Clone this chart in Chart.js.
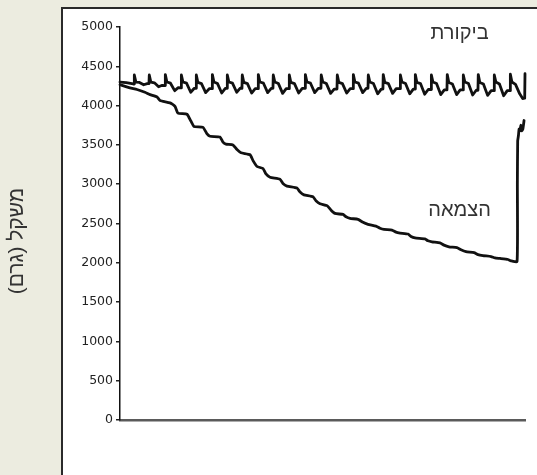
<!DOCTYPE html>
<html>
<head>
<meta charset="utf-8">
<script src="https://cdn.jsdelivr.net/npm/chart.js@4.4.1/dist/chart.umd.min.js"></script>
<style>
  html, body { margin: 0; padding: 0; background: #ECECE0; }
  #wrap { width: 537px; height: 475px; position: relative; }
</style>
</head>
<body>
<div id="wrap"><canvas id="c" width="537" height="475"></canvas></div>
<script>
// Axis
const yTicks = [0, 500, 1000, 1500, 2000, 2500, 3000, 3500, 4000, 4500, 5000];
const yTitle = "משקל (גרם)";
const labelControl = "ביקורת";
const labelStarved = "הצמאה";
const xDays = [0, 26];

// Control series: [day, weight g]
const controlSeries = [
  [0,4300],[0.40,4292],[0.85,4275],
  [0.90,4275],[0.92,4390],[1.02,4300],[1.25,4295],[1.52,4265],[1.75,4280],
  [1.86,4280],[1.88,4390],[1.98,4300],[2.21,4290],[2.48,4240],[2.71,4258],
  [2.89,4255],[2.91,4395],[3.01,4300],[3.24,4285],[3.51,4190],[3.74,4228],
  [3.92,4225],[3.94,4390],[4.04,4300],[4.27,4285],[4.54,4170],[4.77,4220],
  [4.88,4220],[4.90,4390],[5.00,4295],[5.23,4280],[5.50,4165],[5.73,4215],
  [5.91,4215],[5.93,4395],[6.03,4300],[6.26,4280],[6.53,4160],[6.76,4220],
  [6.87,4220],[6.89,4390],[6.99,4300],[7.22,4285],[7.49,4170],[7.72,4222],
  [7.83,4220],[7.85,4390],[7.95,4295],[8.18,4280],[8.45,4160],[8.68,4215],
  [8.86,4215],[8.88,4395],[8.98,4300],[9.21,4285],[9.48,4165],[9.71,4220],
  [9.82,4220],[9.84,4390],[9.94,4300],[10.17,4280],[10.44,4155],[10.67,4215],
  [10.85,4215],[10.87,4390],[10.97,4295],[11.20,4280],[11.47,4160],[11.70,4220],
  [11.88,4220],[11.90,4395],[12.00,4300],[12.23,4285],[12.50,4165],[12.73,4220],
  [12.90,4220],[12.92,4390],[13.02,4300],[13.25,4280],[13.52,4155],[13.75,4210],
  [13.93,4210],[13.95,4390],[14.05,4295],[14.28,4280],[14.55,4160],[14.78,4215],
  [14.96,4215],[14.98,4395],[15.08,4300],[15.31,4285],[15.58,4165],[15.81,4220],
  [15.92,4220],[15.94,4390],[16.04,4300],[16.27,4280],[16.54,4150],[16.77,4210],
  [16.88,4210],[16.90,4395],[17.00,4295],[17.23,4280],[17.50,4155],[17.73,4215],
  [17.98,4215],[18.00,4390],[18.10,4300],[18.33,4280],[18.60,4150],[18.83,4210],
  [18.94,4210],[18.96,4395],[19.06,4295],[19.29,4280],[19.56,4145],[19.79,4205],
  [19.97,4205],[19.99,4390],[20.09,4300],[20.32,4280],[20.59,4140],[20.82,4200],
  [20.99,4200],[21.01,4395],[21.11,4295],[21.34,4275],[21.61,4140],[21.84,4200],
  [22.02,4200],[22.04,4390],[22.14,4300],[22.37,4280],[22.64,4135],[22.87,4195],
  [22.98,4195],[23.00,4395],[23.10,4295],[23.33,4275],[23.60,4130],[23.83,4190],
  [24.01,4190],[24.03,4390],[24.13,4300],[24.36,4275],[24.63,4125],[24.86,4190],
  [25.04,4190],[25.06,4400],[25.16,4300],[25.39,4270],[25.66,4150],[25.85,4090],
  [25.98,4095],[26.00,4405]
];

// Starvation (dehydration) series: [day, weight g]
const starvedSeries = [
  [0,4265],[0.64,4225],[1.09,4205],[1.60,4170],[1.93,4140],[2.38,4110],[2.57,4065],
  [3.21,4035],[3.53,3990],[3.72,3905],[4.30,3890],[4.56,3800],[4.75,3735],[5.33,3723],
  [5.59,3640],[5.78,3610],[6.42,3600],[6.61,3535],[6.80,3510],[7.25,3500],[7.51,3440],
  [7.77,3400],[8.35,3375],[8.54,3300],[8.80,3225],[9.18,3200],[9.37,3130],[9.63,3088],
  [10.27,3063],[10.46,3010],[10.72,2976],[11.36,2951],[11.56,2900],[11.81,2864],
  [12.39,2839],[12.58,2790],[12.84,2752],[13.29,2727],[13.55,2670],[13.80,2628],
  [14.32,2615],[14.51,2585],[14.77,2565],[15.28,2553],[15.60,2515],[15.92,2490],
  [16.43,2466],[16.69,2440],[16.95,2425],[17.46,2416],[17.72,2390],[17.98,2379],
  [18.49,2366],[18.68,2335],[18.94,2316],[19.58,2304],[19.77,2280],[20.03,2267],
  [20.54,2254],[20.80,2225],[21.12,2204],[21.63,2192],[21.89,2165],[22.21,2142],
  [22.73,2129],[22.98,2105],[23.30,2092],[23.82,2080],[24.07,2062],[24.40,2055],
  [24.91,2042],[25.10,2025],[25.49,2017],[25.51,3000],[25.53,3550],[25.58,3620],
  [25.62,3700],[25.69,3680],[25.73,3750],[25.79,3680],[25.86,3700],[25.94,3810]
];

const toPts = s => s.map(p => ({ x: p[0], y: p[1] }));

const panelPlugin = {
  id: 'panel',
  beforeDraw(chart) {
    const ctx = chart.ctx;
    ctx.save();
    ctx.fillStyle = '#ECECE0';
    ctx.fillRect(0, 0, chart.width, chart.height);
    ctx.fillStyle = '#FFFFFF';
    ctx.fillRect(62, 8, chart.width - 62, chart.height - 8);
    ctx.strokeStyle = '#2a2a2a';
    ctx.lineWidth = 2;
    ctx.beginPath();
    ctx.moveTo(62, chart.height);
    ctx.lineTo(62, 8);
    ctx.lineTo(chart.width, 8);
    ctx.stroke();
    ctx.restore();
  },
  afterDraw(chart) {
    const ctx = chart.ctx;
    const xs = chart.scales.x, ys = chart.scales.y;
    ctx.save();
    ctx.direction = 'rtl';
    ctx.fillStyle = '#333';
    ctx.font = '20px "Liberation Sans", Arial, sans-serif';
    ctx.textAlign = 'center';
    ctx.textBaseline = 'middle';
    ctx.fillText(labelControl, xs.getPixelForValue(21.8), ys.getPixelForValue(4915));
    ctx.fillText(labelStarved, xs.getPixelForValue(21.8), ys.getPixelForValue(2665));
    ctx.translate(17, 241);
    ctx.rotate(-Math.PI / 2);
    ctx.font = '21px "Liberation Sans", Arial, sans-serif';
    ctx.fillText(yTitle, 0, 0);
    ctx.restore();
  }
};

new Chart(document.getElementById('c'), {
  type: 'line',
  data: {
    datasets: [
      { label: labelControl, data: toPts(controlSeries), borderColor: '#111', borderWidth: 2.8,
        pointRadius: 0, tension: 0, clip: false, borderJoinStyle: 'round', borderCapStyle: 'round' },
      { label: labelStarved, data: toPts(starvedSeries), borderColor: '#111', borderWidth: 2.8,
        pointRadius: 0, tension: 0.15, clip: false, borderJoinStyle: 'round', borderCapStyle: 'round' }
    ]
  },
  options: {
    responsive: false,
    devicePixelRatio: 1,
    animation: false,
    events: [],
    layout: { padding: { left: 0, top: 27, right: 12, bottom: 47 } },
    plugins: { legend: { display: false }, tooltip: { enabled: false } },
    scales: {
      x: {
        type: 'linear', min: xDays[0], max: xDays[1],
        ticks: { display: false },
        grid: { display: false },
        border: { display: true, color: '#5a5a5a', width: 2.5 }
      },
      y: {
        min: 0, max: 5000,
        afterBuildTicks(scale) { scale.ticks = yTicks.map(v => ({ value: v })); },
        afterFit(scale) { scale.width = 120; },
        ticks: { color: '#222', padding: 3, font: { family: '"DejaVu Sans"', size: 12.5 },
                 callback: v => String(v) },
        grid: { drawOnChartArea: false, drawTicks: true, tickLength: 4, color: '#222', lineWidth: 1.5 },
        border: { display: true, color: '#111', width: 1.5 }
      }
    }
  },
  plugins: [panelPlugin]
});
</script>
</body>
</html>
